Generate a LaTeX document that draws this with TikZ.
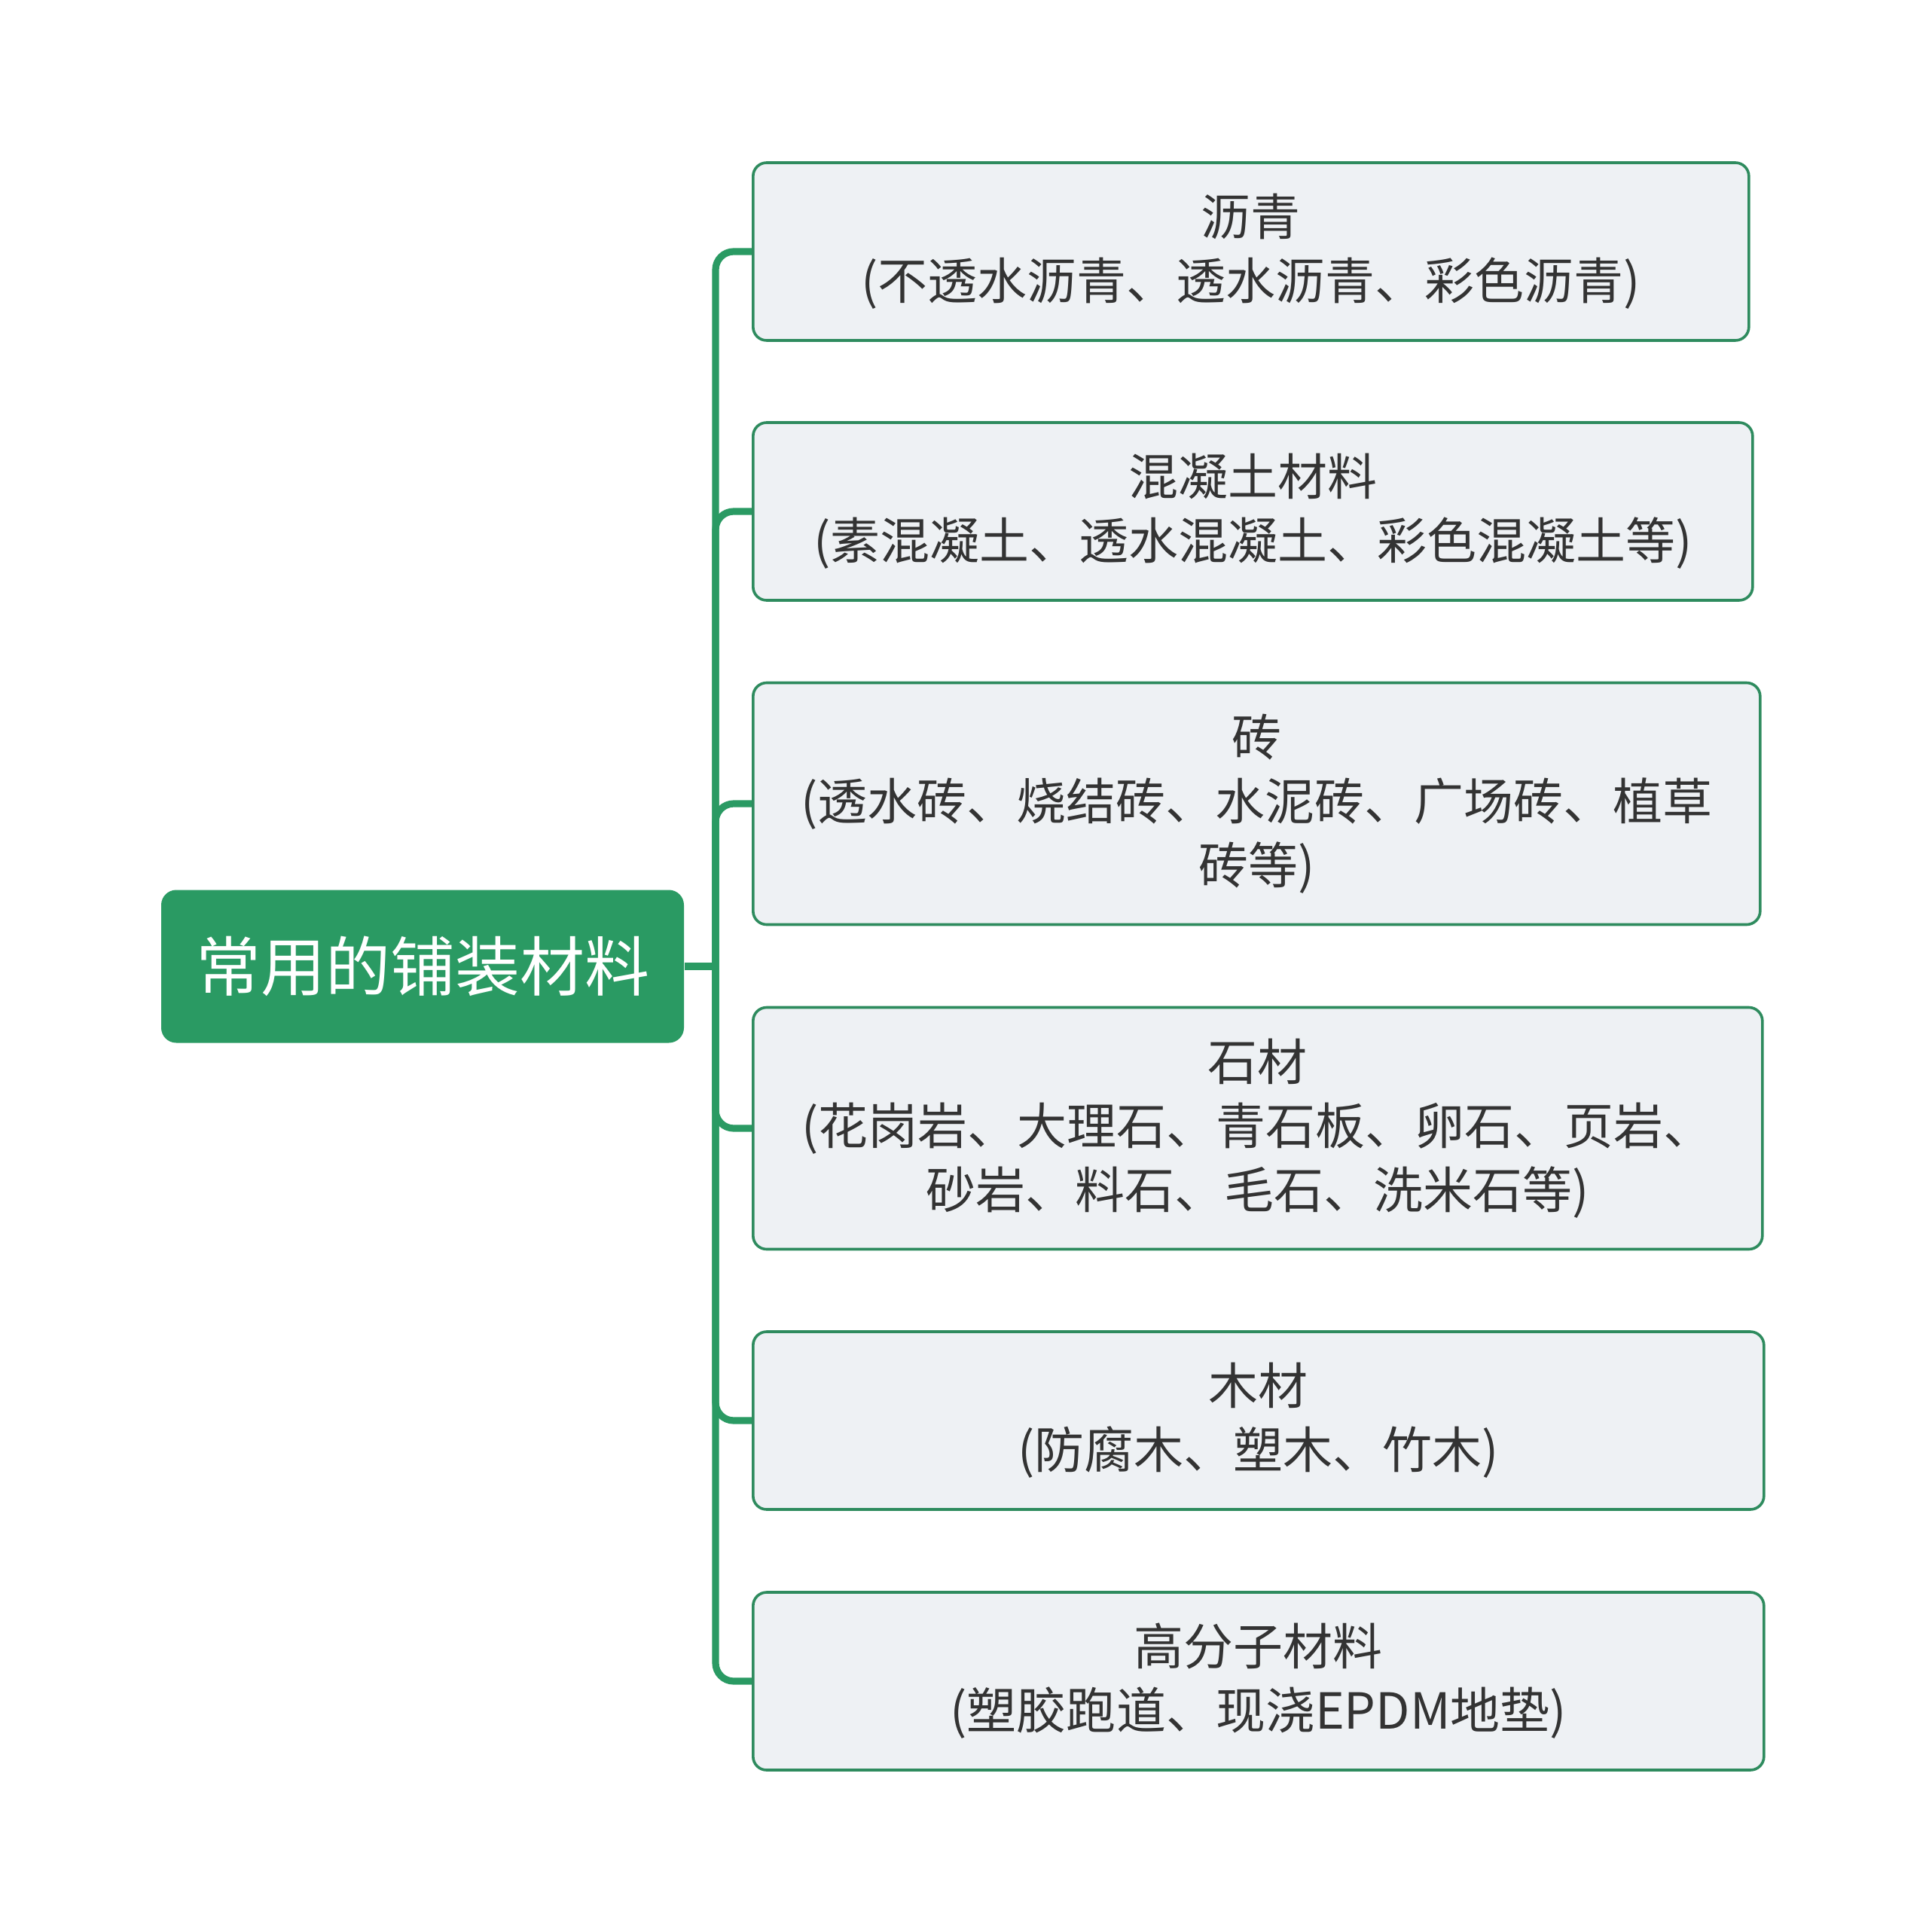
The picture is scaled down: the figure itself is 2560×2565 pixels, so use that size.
\documentclass[tikz,border=0pt]{standalone}
\usepackage{fontspec}
\newfontfamily\cjk{Noto Sans CJK SC}

\definecolor{rootgreen}{HTML}{2A9A63}
\definecolor{leafborder}{HTML}{2E8B5E}
\definecolor{leaffill}{HTML}{EEF1F4}
\definecolor{leaftext}{HTML}{333333}

\begin{document}
\begin{tikzpicture}[
    x=0.25pt, y=-0.25pt,
    root/.style={fill=rootgreen, rounded corners=5pt, text=white,
        minimum width=173.5pt, minimum height=50.75pt, inner sep=0pt,
        font=\cjk\fontsize{21.5}{26}\selectfont},
    leaf/.style={draw=leafborder, line width=0.9pt, fill=leaffill,
        rounded corners=4.5pt, text=leaftext, align=center, anchor=west,
        inner sep=0pt, font=\cjk\fontsize{16.5}{21.3}\selectfont},
    branch/.style={draw=rootgreen, line width=2.3pt, rounded corners=6pt},
    ]

\useasboundingbox (0,0) rectangle (2560,2565);

% Root
\node [root] (root) at (561,1283) {常用的铺装材料};
\coordinate (trunk) at (950,1283);

% Leaves
\foreach \name/\y/\w/\h/\txt in {
    c1/334/1322/236/{沥青\\(不透水沥青、透水沥青、彩色沥青)},
    c2/679/1327/236/{混凝土材料\\(素混凝土、透水混凝土、彩色混凝土等)},
    c3/1067/1337/321/{砖\\(透水砖、烧结砖、水泥砖、广场砖、植草\\砖等)},
    c4/1498/1340/321/{石材\\(花岗岩、大理石、青石板、卵石、页岩、\\砂岩、料石、毛石、洗米石等)},
    c5/1886/1342/236/{木材\\(防腐木、塑木、竹木)},
    c6/2232/1342/236/{高分子材料\\(塑胶跑道、现浇EPDM地垫)}%
} {
    \node [leaf, minimum width=\w*0.25pt, minimum height=\h*0.25pt]
        (\name) at (998,\y) {\txt};
}

% Draws branches
\draw [branch] (root.east) -- (trunk);
\foreach \name in {c1,c2,c3,c4,c5,c6} {
    \draw [branch] (trunk) |- (\name.west);
}

\end{tikzpicture}
\end{document}
